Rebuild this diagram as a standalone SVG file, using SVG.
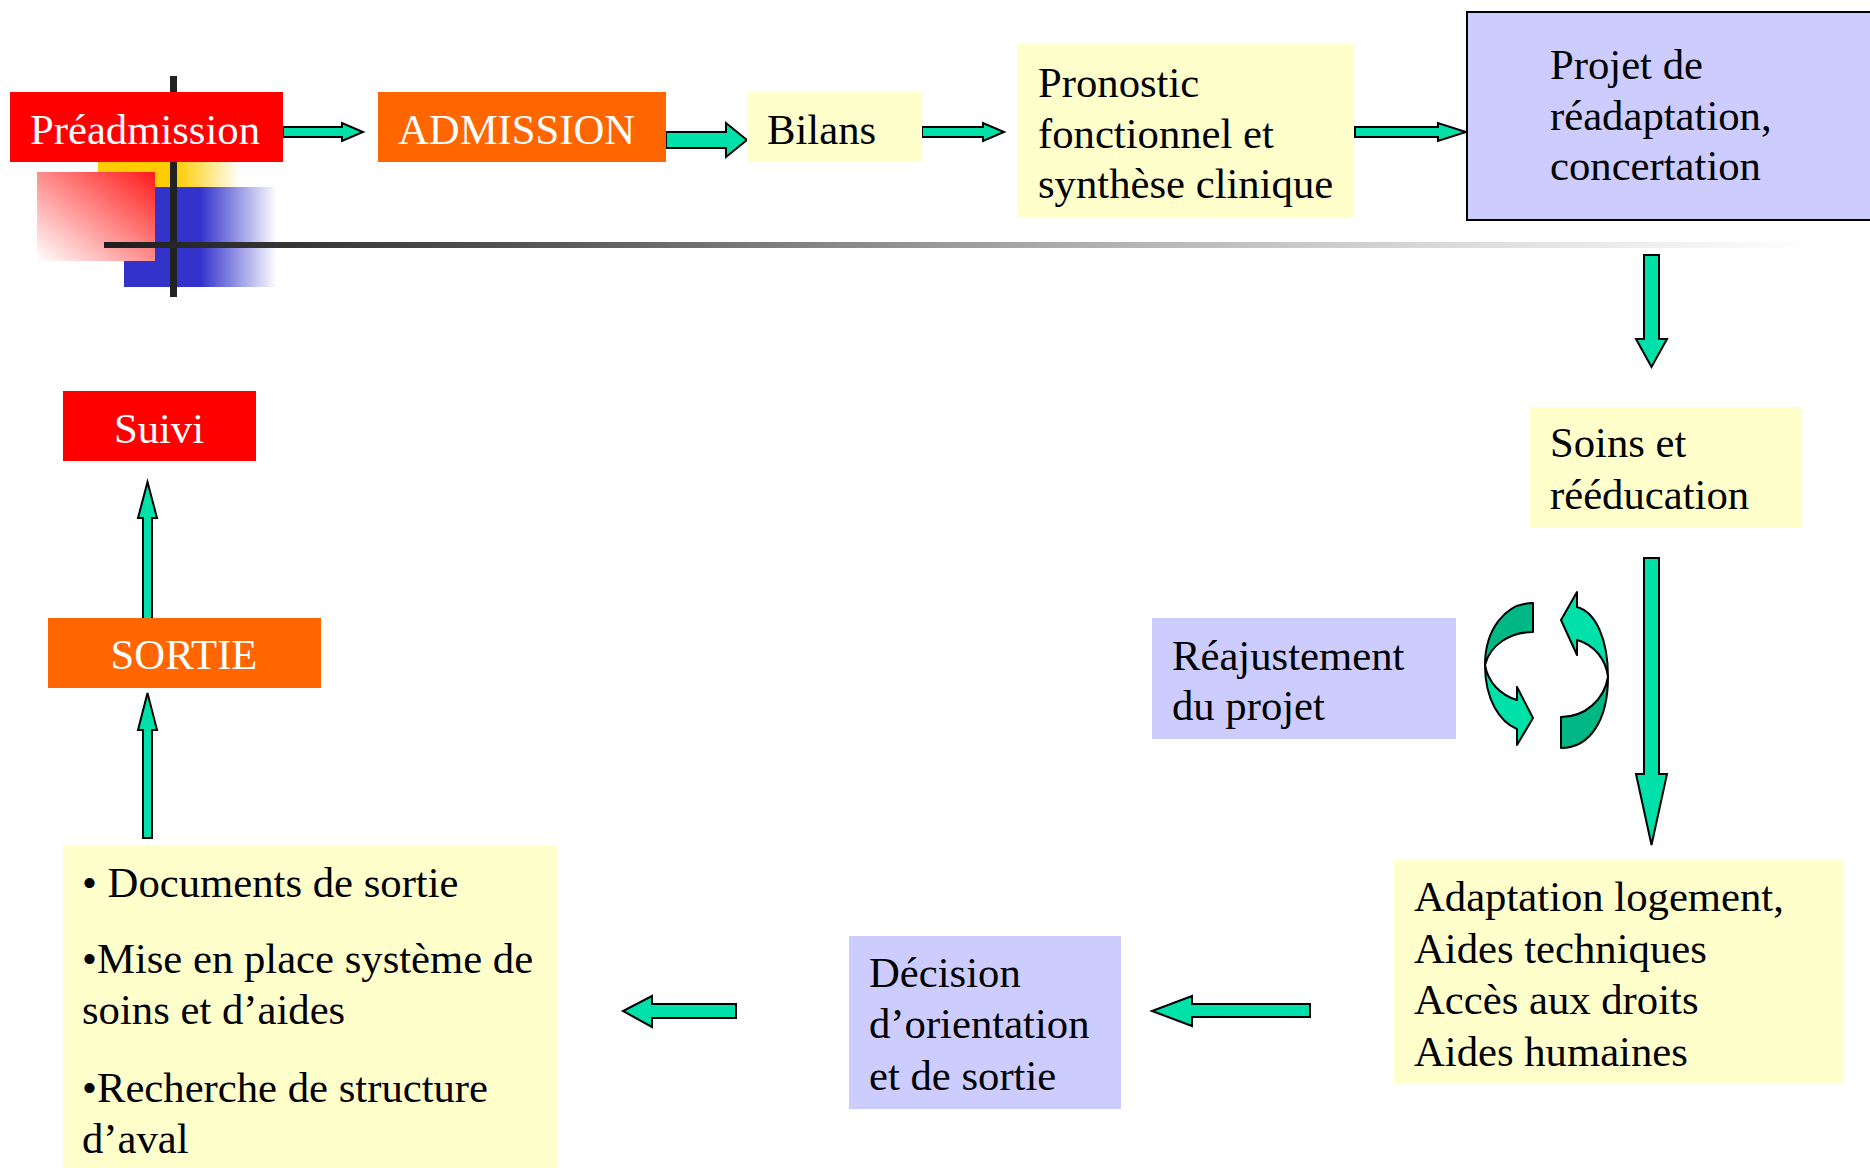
<svg xmlns="http://www.w3.org/2000/svg" width="1870" height="1168" viewBox="0 0 1870 1168">
<style>
  text { font-family: "Liberation Serif", "Times New Roman", serif; font-size: 42.7px; fill: #000; }
  .w { fill: #fff; }
  .red { fill: #FF0000; }
  .orange { fill: #FF6600; }
  .yellow { fill: #FFFFCC; }
  .lav { fill: #CCCCFF; }
  .arrow { fill: #00E1A9; stroke: #000; stroke-width: 2; stroke-linejoin: miter; }
  .dark { fill: #00B886; stroke: #000; stroke-width: 2; stroke-linejoin: round; }
  .light { fill: #00E1A9; stroke: #000; stroke-width: 2; stroke-linejoin: round; }
</style>
<defs>
  <linearGradient id="gYellow" x1="0" y1="0" x2="1" y2="0">
    <stop offset="0" stop-color="#FFCC00"/>
    <stop offset="0.55" stop-color="#FFCC00"/>
    <stop offset="1" stop-color="#FFCC00" stop-opacity="0"/>
  </linearGradient>
  <linearGradient id="gBlue" x1="0" y1="0" x2="1" y2="0">
    <stop offset="0" stop-color="#3333CC"/>
    <stop offset="0.5" stop-color="#3333CC"/>
    <stop offset="1" stop-color="#3333CC" stop-opacity="0"/>
  </linearGradient>
  <linearGradient id="gRed" x1="1" y1="0" x2="0" y2="1">
    <stop offset="0" stop-color="#FF1A1A"/>
    <stop offset="1" stop-color="#FFFFFF"/>
  </linearGradient>
  <linearGradient id="gLine" x1="0" y1="0" x2="1" y2="0">
    <stop offset="0" stop-color="#1E1E1E"/>
    <stop offset="0.25" stop-color="#555"/>
    <stop offset="0.55" stop-color="#AAA"/>
    <stop offset="0.8" stop-color="#DDD"/>
    <stop offset="1" stop-color="#FFF"/>
  </linearGradient>
</defs>
<rect width="1870" height="1168" fill="#fff"/>

<!-- decoration -->
<rect x="98" y="100" width="142" height="87" fill="url(#gYellow)"/>
<rect x="124" y="187" width="153" height="100" fill="url(#gBlue)"/>
<rect x="37" y="172" width="118" height="89" fill="url(#gRed)"/>
<rect x="170" y="76" width="7" height="221" fill="#222"/>
<rect x="104" y="242" width="1710" height="6" fill="url(#gLine)"/>

<g id="connectors">
  <polygon class="arrow" points="283,127 342,127 342,123 363,132 342,141 342,137 283,137"/>
  <polygon class="arrow" points="666,132 726,132 726,123 747,140 726,157 726,148 666,148"/>
  <polygon class="arrow" points="922,127 983,127 983,123 1004,132 983,141 983,137 922,137"/>
  <polygon class="arrow" points="1355,127 1438,127 1438,123 1466,132 1438,141 1438,137 1355,137"/>
  <polygon class="arrow" points="1644,255 1659,255 1659,339 1667,339 1651.5,367 1636,339 1644,339"/>
  <polygon class="arrow" points="1644,558 1659,558 1659,774 1667,774 1651.5,845 1636,774 1644,774"/>
  <polygon class="arrow" points="1310,1004 1192,1004 1192,996 1152,1011 1192,1026 1192,1017 1310,1017"/>
  <polygon class="arrow" points="736,1004 652,1004 652,996 623,1011 652,1027 652,1018 736,1018"/>
  <polygon class="arrow" points="143,838 143,730 138,730 147.5,693 157,730 152,730 152,838"/>
  <polygon class="arrow" points="143,627 143,518 138,518 147.5,482 157,518 152,518 152,627"/>
  <g id="cycle">
    <path class="dark" d="M1533,603 C1505,603 1485,630 1485,665 C1490,645 1510,632 1533,632 Z"/>
    <path class="light" d="M1485,665 C1485,700 1500,722 1517,729 L1517,745 L1533,718 L1517,687 L1517,700 C1500,695 1488,682 1485,665 Z"/>
    <path class="light" d="M1577,607 C1596,612 1608,640 1608,677 C1606,660 1595,645 1577,640 L1577,655 L1561,620 L1577,592 Z"/>
    <path class="dark" d="M1608,677 C1608,720 1590,748 1561,748 L1561,717 C1585,717 1604,700 1608,677 Z"/>
  </g>
</g>

<g id="preadmission">
  <rect class="red" x="10" y="92" width="273" height="70"/>
  <text class="w" x="145" y="144" text-anchor="middle">Préadmission</text>
</g>
<g id="admission">
  <rect class="orange" x="378" y="92" width="288" height="70"/>
  <text class="w" x="398" y="144">ADMISSION</text>
</g>
<g id="bilans">
  <rect class="yellow" x="747" y="92" width="175" height="70"/>
  <text x="767" y="144">Bilans</text>
</g>
<g id="pronostic">
  <rect class="yellow" x="1017" y="44" width="337" height="174"/>
  <text x="1038" y="97">Pronostic</text>
  <text x="1038" y="148">fonctionnel et</text>
  <text x="1038" y="198">synthèse clinique</text>
</g>
<g id="projet">
  <rect class="lav" x="1467" y="12" width="420" height="208" stroke="#000" stroke-width="2"/>
  <text x="1550" y="79">Projet de</text>
  <text x="1550" y="130">réadaptation,</text>
  <text x="1550" y="180">concertation</text>
</g>
<g id="soins">
  <rect class="yellow" x="1530" y="407" width="272" height="121"/>
  <text x="1550" y="457">Soins et</text>
  <text x="1550" y="509">rééducation</text>
</g>
<g id="reajustement">
  <rect class="lav" x="1152" y="618" width="304" height="121"/>
  <text x="1172" y="670">Réajustement</text>
  <text x="1172" y="720">du projet</text>
</g>
<g id="adaptation">
  <rect class="yellow" x="1394" y="860" width="449" height="224"/>
  <text x="1414" y="911">Adaptation logement,</text>
  <text x="1414" y="963">Aides techniques</text>
  <text x="1414" y="1014">Accès aux droits</text>
  <text x="1414" y="1066">Aides humaines</text>
</g>
<g id="decision">
  <rect class="lav" x="849" y="936" width="272" height="173"/>
  <text x="869" y="987">Décision</text>
  <text x="869" y="1038">d’orientation</text>
  <text x="869" y="1090">et de sortie</text>
</g>
<g id="documents">
  <rect class="yellow" x="63" y="845" width="494" height="323"/>
  <text x="82" y="897">• Documents de sortie</text>
  <text x="82" y="973">•Mise en place système de</text>
  <text x="82" y="1024">soins et d’aides</text>
  <text x="82" y="1102">•Recherche de structure</text>
  <text x="82" y="1153">d’aval</text>
</g>
<g id="sortie">
  <rect class="orange" x="48" y="618" width="273" height="70"/>
  <text class="w" x="184" y="669" text-anchor="middle">SORTIE</text>
</g>
<g id="suivi">
  <rect class="red" x="63" y="391" width="193" height="70"/>
  <text class="w" x="159" y="443" text-anchor="middle">Suivi</text>
</g>
</svg>
